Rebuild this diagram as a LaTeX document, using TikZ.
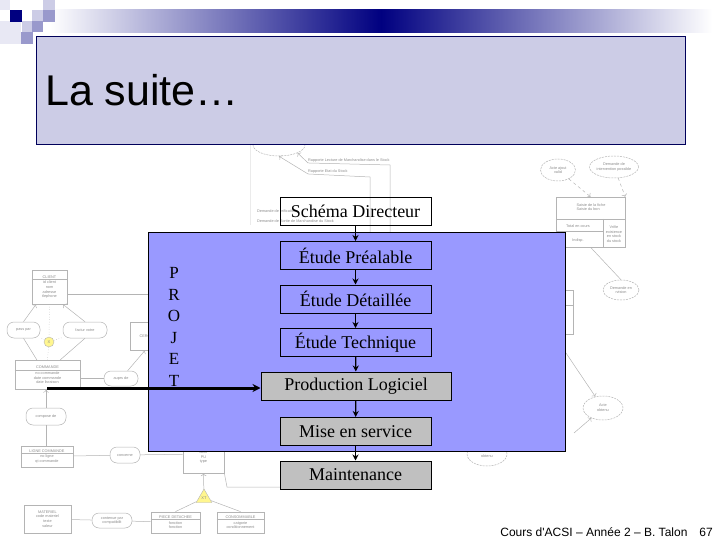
\documentclass[tikz,border=0pt]{standalone}
\usepackage{fontspec}
\setmainfont{Liberation Serif}
\newfontfamily\arialfont{Liberation Sans}
\usetikzlibrary{arrows.meta,shapes.geometric}
\definecolor{titlefill}{HTML}{CCCCE6}
\definecolor{panelfill}{HTML}{9999FF}
\definecolor{navyband}{HTML}{000080}
\definecolor{boxgray}{HTML}{C0C0C0}
\definecolor{faintline}{HTML}{B4B4B4}
\definecolor{fainttext}{HTML}{8C8C8C}
\definecolor{markyellow}{HTML}{FFF68F}
\tikzset{
  stepbox/.style={draw=black, line width=1pt, minimum width=151pt, minimum height=28pt, inner sep=0pt,
    font=\fontsize{18}{20}\selectfont},
  flow/.style={-{Stealth[length=6pt,width=6pt]}, line width=1.3pt, black},
  faint/.style={draw=faintline, line width=0.5pt},
  fainttxt/.style={text=fainttext, font=\arialfont\fontsize{3.8}{4.6}\selectfont, inner sep=0pt, align=center},
  entity/.style={faint, fainttxt, line width=0.8pt, fill=white},
  relation/.style={faint, fainttxt, fill=white, rounded corners=7pt},
  etat/.style={faint, fainttxt, ellipse, fill=white, dashed, dash pattern=on 2pt off 1pt},
}
\begin{document}
\begin{tikzpicture}[x=1pt,y=-1pt]
    \useasboundingbox (0,0) rectangle (720,540);

    % Corner squares and band
    \shade[left color=white, right color=white, middle color=navyband] (50,10) rectangle (712,33);
    \fill[titlefill!45] (0,0) rectangle (10,10);
    \fill[titlefill!45] (0,21) rectangle (21,44);
    \fill[titlefill] (43,0) rectangle (55,10);
    \fill[titlefill] (32,10) rectangle (43,21);
    \fill[titlefill] (22,21) rectangle (32,32);
    \fill[navyband] (10,10) rectangle (22,22);
    \fill[navyband!40] (43,10) rectangle (55,22);
    \fill[navyband!40] (32,21) rectangle (43,32);
    \fill[navyband!40] (21,32) rectangle (33,44);

    % Faded diagram, left
    \node[entity, minimum width=35pt, minimum height=34pt] (client) at (49.5,287) {CLIENT\\[1pt]id client\\nom\\adresse\\tlephone};
    \node[entity, minimum width=65pt, minimum height=29pt] (commande) at (47.5,375) {COMMANDE\\[1pt]no commande\\date commande\\date livraison};
    \node[entity, minimum width=52pt, minimum height=21pt] (lignecmd) at (47,456.5) {LIGNE COMMANDE\\[1pt]no ligne\\qt commande};
    \node[entity, minimum width=47pt, minimum height=28pt] (materiel) at (47.5,519) {MATERIEL\\code materiel\\texte\\valeur};
    \node[entity, minimum width=49pt, minimum height=21pt] (piece) at (175.5,522.5) {PIECE DETACHEE\\[1pt]fonction\\fonction};
    \node[entity, minimum width=47pt, minimum height=21pt] (conso) at (240.5,522.5) {CONSOMMABLE\\[1pt]catgorie\\conditionnement};
    \node[entity, minimum width=41pt, minimum height=38pt] (article) at (203.5,454) {\\\\libell\\PU\\type};
    \node[entity, minimum width=30pt, minimum height=28pt] (cercle) at (145,336) {CERC};
    \node[relation, minimum width=33pt, minimum height=16pt] (passe) at (23.5,330) {pass par};
    \node[relation, minimum width=44pt, minimum height=16pt] (facture) at (85,330) {factur  votre};
    \node[relation, minimum width=34pt, minimum height=15pt] (aupres) at (121,378.5) {auprs de};
    \node[relation, minimum width=40pt, minimum height=17pt] (composee) at (46,416.5) {compose de};
    \node[relation, minimum width=30pt, minimum height=16pt] (concerne) at (125,455) {concerne};
    \node[relation, minimum width=40pt, minimum height=15pt] (contenue) at (112,520.5) {contenue par\\compatibilit};
    \node[relation, minimum width=46pt, minimum height=16pt] (fourni) at (277,443) {};
    \node[circle, draw=faintline, fill=markyellow, inner sep=0pt, minimum size=10pt, text=fainttext, font=\arialfont\fontsize{4}{5}\selectfont] (excl) at (49,342) {X};
    \node[regular polygon, regular polygon sides=3, draw=faintline, fill=markyellow, inner sep=0pt, minimum size=18pt, text=fainttext, font=\arialfont\fontsize{4}{5}\selectfont] (xt) at (204,498) {XT};
    \foreach \n/\d in {client/10pt,commande/10pt,lignecmd/8pt,piece/8pt,conso/8pt} \draw[faint] ([yshift=-\d]\n.north west) -- ([yshift=-\d]\n.north east);

    \coordinate (clientout) at (148,294);
    \draw[faint] (client.east |- clientout) -- (clientout);
    \draw[faint, ->] (passe.north) -- (client.south -| 36,0);
    \draw[faint, ->] (facture.north) -- (client.south -| 63,0);
    \draw[faint] (passe.south) -- (commande.north -| 37,0);
    \draw[faint] (facture.south) -- (commande.north -| 60,0);
    \draw[faint, dotted] (client.south) -- (excl) -- (commande.north);
    \draw[faint, dotted] (excl) -- (passe);
    \draw[faint, dotted] (excl) -- (facture);
    \draw[faint] (commande.east |- aupres) -- (aupres);
    \draw[faint, ->] (aupres) -- (cercle.south);
    \draw[faint, ->] (composee) -- (composee |- commande.south);
    \draw[faint] (composee) -- (composee |- lignecmd.north);
    \draw[faint] (lignecmd) -- (concerne);
    \draw[faint] (concerne) -- (article);
    \draw[faint] (materiel) -- (contenue);
    \draw[faint] (contenue) -- (piece);
    \draw[faint, ->] (xt) -- (article.south);
    \draw[faint] (xt) -- (piece.north);
    \draw[faint] (xt) -- (conso.north);
    \coordinate (cornera) at (227,487);
    \coordinate (cornerb) at (280,487);
    \draw[faint] (article.south east) -- (cornera) -- (cornerb);

    % Faded diagram, top
    \coordinate (frameA) at (250,145);
    \coordinate (frameB) at (250,225);
    \draw[draw=black!8] (frameA) -- (frameB);
    \node[etat, minimum width=52pt, minimum height=22pt] (transport) at (279,145) {};
    \node[fainttxt, anchor=west] (rapporta) at (308,161) {Rapporte Lecture de Marchandise dans le Stock};
    \node[fainttxt, anchor=west] (rapportb) at (308,172) {Rapporte Etat du Stock};
    \node[fainttxt, anchor=west] (demanda) at (257,211) {Demande de vrification};
    \node[fainttxt, anchor=west] (demandb) at (257,221) {Demande de Sortie de Marchandise du Stock};
    \coordinate (rightA) at (390,165);
    \coordinate (rightB) at (390,232);
    \coordinate (rightC) at (370,177);
    \coordinate (rightD) at (370,232);
    \draw[faint] (rapporta.south west) -- (rightA) -- (rightB);
    \draw[faint] (rapportb.south west) -- (rightC) -- (rightD);
    \draw[faint, ->] (rapporta.south west) -- (transport.south east);
    \draw[faint, ->] (rapportb.south west) -- (transport.south);

    % Faded diagram, right
    \node[etat, minimum width=35pt, minimum height=22pt] (acte) at (558,170) {Acte ajout\\valid};
    \node[etat, minimum width=46pt, minimum height=22pt] (demandc) at (614,167) {Demande de\\intervention possible};
    \node[faint, fill=white, minimum width=69pt, minimum height=50pt] (regle) at (590.5,222) {};
    \node[fainttxt, align=left] (regletxt) at (591,207) {Saisie de la fiche\\Saisie du bon};
    \node[fainttxt] (reglea) at (578,226) {Total en cours};
    \node[fainttxt] (regleb) at (578,241) {Indisp.};
    \node[fainttxt] (reglec) at (614,234) {Vrifie\\existence\\en stock\\du stock};
    \draw[faint] (556,219) -- (625,219);
    \draw[faint] (603,219) -- (603,247);
    \draw[faint] (556,231) -- (603,231);
    \draw[faint, dashed, ->] (acte) -- (regle.north);
    \draw[faint, dashed, ->] (demandc) -- (regle.north east);
    \node[etat, minimum width=36pt, minimum height=20pt] (demandd) at (621,290) {Demande en\\rvision};
    \node[etat, minimum width=40pt, minimum height=24pt] (etatb) at (603,408) {Acte\\obtenu};
    \node[etat, minimum width=40pt, minimum height=24pt] (etatc) at (487,454) {Acte\\obtenu};
    \node[faint, minimum width=20pt, minimum height=44pt] (bloc) at (563,312) {};
    \draw[faint] (553,305) -- (573,305);
    \draw[faint] (regle.south) -- (demandd.north);
    \coordinate (lineA) at (566,353);
    \coordinate (lineB) at (574,433);
    \draw[faint, ->] (lineA) -- (etatb);
    \draw[faint, ->] (lineB) -- (etatb);

    % Title
    \node[draw=navyband!70!black, line width=0.8pt, fill=titlefill, minimum width=649pt, minimum height=108pt, inner sep=0pt] (titlebox) at (360.5,90) {};
    \node[anchor=base west, inner sep=0pt, font=\arialfont\fontsize{43}{45}\selectfont] (titletxt) at (45,106) {La suite…};

    % Project panel
    \node[draw=black, line width=0.8pt, fill=panelfill, minimum width=417pt, minimum height=219pt, inner sep=0pt] (panel) at (356.5,341.5) {};
    \node[align=center, inner sep=0pt, font=\fontsize{17}{21.6}\selectfont] (projet) at (174,327) {P\\R\\O\\J\\E\\T};

    % Steps
    \node[stepbox] (schema) at (355.5,211.5) {Schéma Directeur};
    \node[stepbox, fill=panelfill] (prealable) at (355.5,255.5) {Étude Préalable};
    \node[stepbox, fill=panelfill] (detaillee) at (355.5,299) {Étude Détaillée};
    \node[stepbox, fill=panelfill] (technique) at (355.5,342.5) {Étude Technique};
    \node[stepbox, fill=boxgray, minimum width=190pt] (production) at (356,386) {Production Logiciel};
    \node[stepbox, fill=boxgray] (miseservice) at (355.5,431.5) {Mise en service};
    \node[stepbox, fill=boxgray] (maintenance) at (355.5,475) {Maintenance};

    % Arrows
    \draw[flow] (schema) -- (prealable);
    \draw[flow] (prealable) -- (detaillee);
    \draw[flow] (detaillee) -- (technique);
    \draw[flow] (technique) -- (production);
    \draw[flow] (production) -- (miseservice);
    \draw[flow] (miseservice) -- (maintenance);
    \coordinate (start) at (47,388);
    \draw[-{Stealth[length=8pt,width=8pt]}, line width=3pt] (start) -- (start -| production.west);

    % Footer
    \node[anchor=base east, inner sep=0pt, font=\arialfont\fontsize{12}{14}\selectfont] (footer) at (713,536) {Cours d'ACSI – Année 2 – B. Talon\hspace{12pt}67};
\end{tikzpicture}
\end{document}
